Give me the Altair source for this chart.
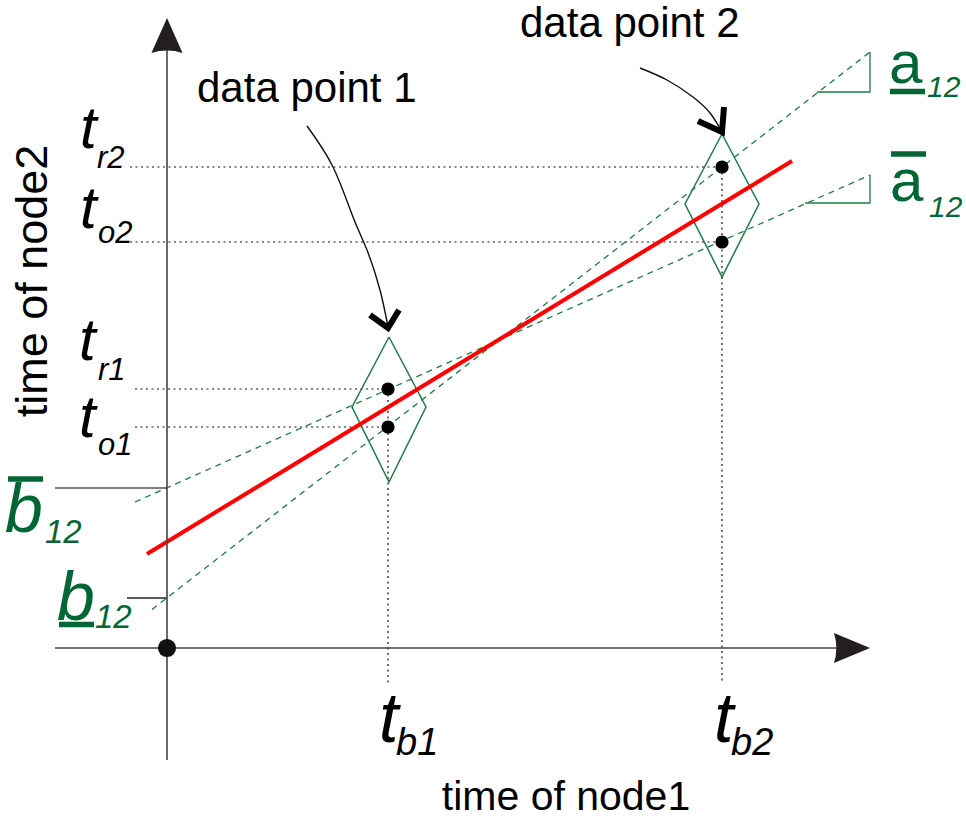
import altair as alt
import pandas as pd

# ---------------------------------------------------------------
# Coordinates: x = time of node1, y = time of node2,
# origin where the two axes cross.
# ---------------------------------------------------------------
t_b = [221, 555]          # send times on node1 (data point 1, 2)
t_o = [221, 406]          # lower reading on node2
t_r = [259, 481]          # upper reading on node2

# fitted line (red)
fit_x = [-20, 625]
fit_y = [94, 487]

# bounding lines (green dashed)
steep_x = [-15, 703]      # slope a_12 (lower bar), intercept b_12 (lower bar)
steep_y = [38.5, 596]
shallow_x = [-32, 703]    # slope a_12 (upper bar), intercept b_12 (upper bar)
shallow_y = [146, 473]
b_under = 50
b_over = 160

# slope triangles at the right ends of the bounding lines
tri_steep_x = [650, 703, 703]
tri_steep_y = [556, 556, 596]
tri_shallow_x = [638, 703, 703]
tri_shallow_y = [445, 445, 473]

# uncertainty diamonds around each data point
diamond_x = [[222, 259, 222, 185, 222], [555, 592, 555, 518, 555]]
diamond_y = [[311, 241, 166, 241, 311], [514, 444, 371, 444, 514]]

# curved pointers from the captions
pointer1_x = [140, 166, 186, 200, 213, 221]
pointer1_y = [522, 481, 431, 398, 358, 321]
pointer2_x = [473, 500, 526, 543, 554]
pointer2_y = [580, 568, 551, 535, 518]
head1_x = [203, 221, 232]
head1_y = [333, 320, 338]
head2_x = [531, 555, 557]
head2_y = [527, 516, 541]

# extents of axes and guides
axis_start = -112
x_axis_end = 673
y_axis_end = 610
guide_left = [-32, -37]
guide_bottom = -35
b_over_tick_left = -112
b_under_tick_left = -40

GREEN_TEXT = "#006633"
GREEN_LINE = "#217a45"
FONT = "Liberation Sans"

X = alt.Scale(domain=[-167, 799], nice=False, zero=False)
Y = alt.Scale(domain=[-170, 648], nice=False, zero=False)


def rows(xs, ys, g=0):
    return [{"x": a, "y": b, "i": k, "g": g} for k, (a, b) in enumerate(zip(xs, ys))]


def lines(data, **kw):
    return alt.Chart(pd.DataFrame(data)).mark_line(**kw).encode(
        x=alt.X("x:Q", scale=X, axis=None),
        y=alt.Y("y:Q", scale=Y, axis=None),
        detail="g:N",
        order="i:Q",
    )


def texts(data, italic=False, align="left", angle=0):
    return alt.Chart(pd.DataFrame(data)).mark_text(
        font=FONT, fontStyle="italic" if italic else "normal",
        align=align, baseline="alphabetic", angle=angle,
    ).encode(
        x=alt.X("x:Q", scale=X, axis=None),
        y=alt.Y("y:Q", scale=Y, axis=None),
        text="text:N",
        size=alt.Size("size:Q", scale=None),
        color=alt.Color("color:N", scale=None),
    )


# dotted guides from each reading to the axes
guides = []
g = 0
for k in range(2):
    for v in (t_r[k], t_o[k]):
        guides += rows([guide_left[k], t_b[k]], [v, v], g)
        g += 1
    guides += rows([t_b[k], t_b[k]], [t_r[k], guide_bottom], g)
    g += 1
dotted = lines(guides, color="#111111", strokeWidth=1.2, strokeDash=[2, 3.5])

bounds = lines(rows(steep_x, steep_y, 0) + rows(shallow_x, shallow_y, 1),
               color=GREEN_LINE, strokeWidth=1.3, strokeDash=[6, 5])

triangles = lines(rows(tri_steep_x, tri_steep_y, 0) + rows(tri_shallow_x, tri_shallow_y, 1),
                  color=GREEN_LINE, strokeWidth=1.3)

diamonds = lines(rows(diamond_x[0], diamond_y[0], 0) + rows(diamond_x[1], diamond_y[1], 1),
                 color=GREEN_LINE, strokeWidth=1.5)

fit = lines(rows(fit_x, fit_y), color="#ff0000", strokeWidth=4)

# intercept ticks on the vertical axis
ticks = lines(rows([b_over_tick_left, 0], [b_over, b_over], 0), color="#555555", strokeWidth=1.6) + \
    lines(rows([b_under_tick_left, 0], [b_under, b_under], 1), color="#222222", strokeWidth=1.3)

axes = lines(rows([axis_start, x_axis_end], [0, 0], 0) + rows([0, 0], [axis_start, y_axis_end], 1),
             color="#444444", strokeWidth=1.6)

arrow_tips = alt.Chart(pd.DataFrame({
    "x": [0, 685], "y": [612.5, 0],
    "shape": ["M0,-1L0.89,1Q0,0.72,-0.89,1Z", "M1,0L-1,0.84Q-0.74,0,-1,-0.84Z"],
    "size": [1225, 1296],
})).mark_point(filled=True, opacity=1, color="#231f20", strokeWidth=0).encode(
    x=alt.X("x:Q", scale=X, axis=None),
    y=alt.Y("y:Q", scale=Y, axis=None),
    shape=alt.Shape("shape:N", scale=None),
    size=alt.Size("size:Q", scale=None),
)

origin = alt.Chart(pd.DataFrame({"x": [0], "y": [0]})).mark_circle(
    size=330, color="#111111", opacity=1).encode(
    x=alt.X("x:Q", scale=X, axis=None), y=alt.Y("y:Q", scale=Y, axis=None))

points = alt.Chart(pd.DataFrame({"x": t_b + t_b, "y": t_o + t_r})).mark_circle(
    size=175, color="#000000", opacity=1).encode(
    x=alt.X("x:Q", scale=X, axis=None), y=alt.Y("y:Q", scale=Y, axis=None))

pointers = lines(rows(pointer1_x, pointer1_y, 0) + rows(pointer2_x, pointer2_y, 1),
                 color="#111111", strokeWidth=1.4, interpolate="natural")
heads = lines(rows(head1_x, head1_y, 0) + rows(head2_x, head2_y, 1),
              color="#000000", strokeWidth=6, strokeJoin="miter")

# over/under bars of the green symbols
bars = alt.Chart(pd.DataFrame({
    "x": [723, 724, -159, -108], "x2": [758, 759, -124, -73],
    "y": [556.5, 494, 169, 23.5],
})).mark_rule(color=GREEN_TEXT, strokeWidth=5.5).encode(
    x=alt.X("x:Q", scale=X, axis=None), x2="x2:Q",
    y=alt.Y("y:Q", scale=Y, axis=None))

BLACK = "#000000"
plain = texts([
    {"text": "data point 1", "x": 30, "y": 546, "size": 42, "color": BLACK},
    {"text": "data point 2", "x": 353, "y": 611, "size": 42, "color": BLACK},
    {"text": "a", "x": 722, "y": 565, "size": 60, "color": GREEN_TEXT},
    {"text": "a", "x": 723, "y": 447, "size": 60, "color": GREEN_TEXT},
])
x_title = texts([{"text": "time of node1", "x": 399, "y": -162, "size": 41, "color": BLACK}],
                align="center")
y_title = texts([{"text": "time of node2", "x": -120, "y": 367, "size": 45, "color": BLACK}],
                align="center", angle=270)

italic = texts([
    # readings on node2
    {"text": "t", "x": -87, "y": 500, "size": 60, "color": BLACK},
    {"text": "r2", "x": -70, "y": 480, "size": 31, "color": BLACK},
    {"text": "t", "x": -87, "y": 420, "size": 60, "color": BLACK},
    {"text": "o2", "x": -69, "y": 405, "size": 31, "color": BLACK},
    {"text": "t", "x": -88, "y": 288, "size": 60, "color": BLACK},
    {"text": "r1", "x": -69, "y": 268, "size": 31, "color": BLACK},
    {"text": "t", "x": -88, "y": 211, "size": 60, "color": BLACK},
    {"text": "o1", "x": -69, "y": 193, "size": 31, "color": BLACK},
    # send times on node1
    {"text": "t", "x": 212, "y": -94, "size": 70, "color": BLACK},
    {"text": "b1", "x": 229, "y": -107, "size": 38, "color": BLACK},
    {"text": "t", "x": 547, "y": -94, "size": 70, "color": BLACK},
    {"text": "b2", "x": 564, "y": -107, "size": 38, "color": BLACK},
    # green parameter labels
    {"text": "12", "x": 760, "y": 551, "size": 30, "color": GREEN_TEXT},
    {"text": "12", "x": 762, "y": 431, "size": 30, "color": GREEN_TEXT},
    {"text": "b", "x": -162, "y": 116, "size": 68, "color": GREEN_TEXT},
    {"text": "12", "x": -122, "y": 105, "size": 33, "color": GREEN_TEXT},
    {"text": "b", "x": -110, "y": 28, "size": 68, "color": GREEN_TEXT},
    {"text": "12", "x": -72, "y": 20, "size": 33, "color": GREEN_TEXT},
], italic=True)

chart = alt.layer(
    dotted, bounds, triangles, diamonds, fit, ticks, axes, arrow_tips,
    origin, points, pointers, heads, bars, plain, x_title, y_title, italic,
).properties(
    width=966, height=818, padding=0, autosize=alt.AutoSizeParams(type="none"),
    background="white",
).configure_view(stroke=None)

chart.save("out.html", embed_options={"renderer": "svg", "actions": False})
